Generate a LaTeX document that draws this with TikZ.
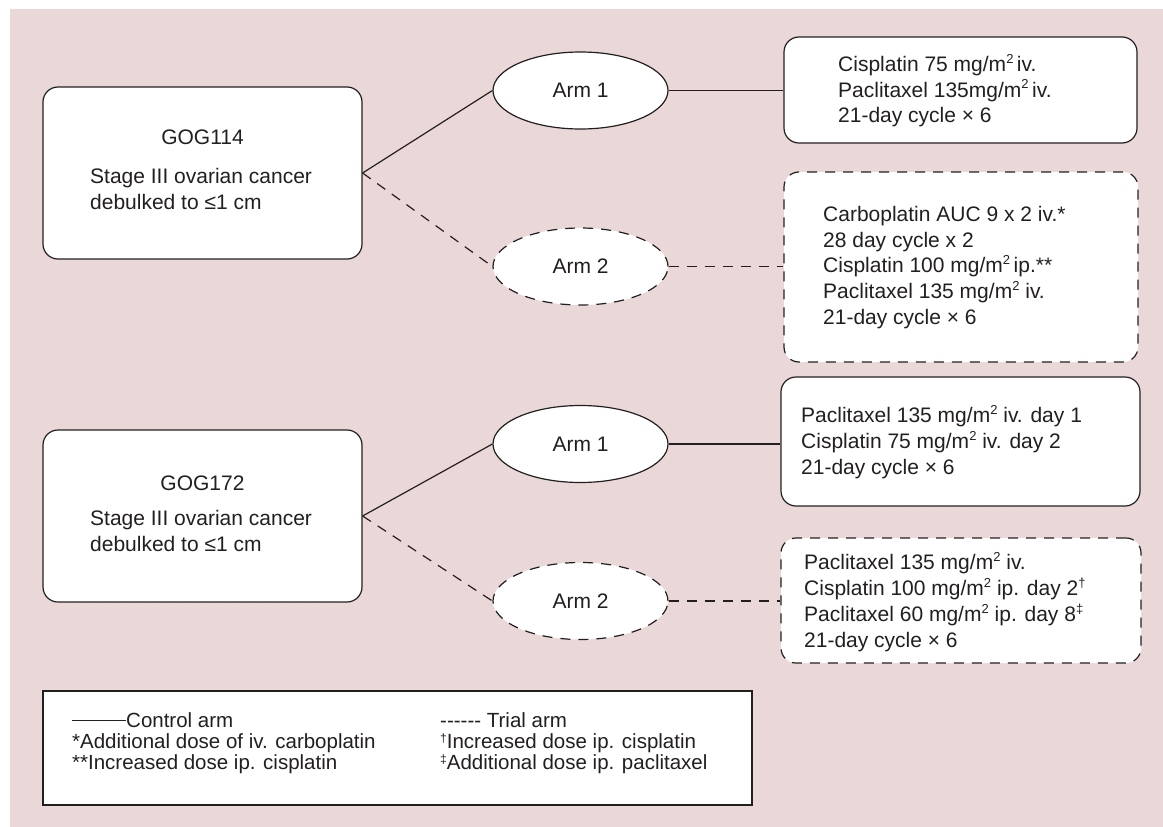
\documentclass[tikz,border=0pt]{standalone}
\usepackage{fontspec}
\newfontfamily\lsans{Liberation Sans}
\usetikzlibrary{shapes.geometric,calc}
\definecolor{bgpink}{RGB}{234,216,216}
\definecolor{ink}{RGB}{35,31,32}
\newcommand\mysup[1]{\raisebox{0.75ex}{\fontsize{13}{13}\selectfont #1}}
\newcommand\legsup[1]{\raisebox{0.5ex}{\fontsize{12}{12}\selectfont #1}}
\begin{document}
\begin{tikzpicture}[x=1pt,y=-1pt,
 every node/.style={font=\lsans\fontsize{21}{25.7}\selectfont, text=ink},
 edge/.style={draw=ink, line width=1.2pt},
 trial/.style={dash pattern=on 10pt off 8pt},
 studybox/.style={draw=ink, line width=1.2pt, fill=white, rounded corners=15pt, minimum width=319pt, minimum height=172pt, inner sep=0pt},
 armnode/.style={ellipse, draw=ink, line width=1.2pt, fill=white, minimum width=175pt, minimum height=77pt, inner sep=0pt},
 regbox/.style={draw=ink, line width=1.2pt, fill=white, rounded corners=15pt, inner sep=0pt},
 regtext/.style={anchor=west, align=left, inner sep=0pt},
 legtext/.style={anchor=west, inner sep=0pt, text height=13pt, text depth=3pt, font=\lsans\fontsize{20.5}{21}\selectfont},
]
\useasboundingbox (0,0) rectangle (1163,827);
\fill[bgpink] (10,9) rectangle (1163,827);

% ---------- GOG114 ----------
\node[studybox] (s1) at (202.5,173) {};
\node (s1t) at (202.5,137) {GOG114};
\node[regtext, anchor=north west] (s1d) at (90,168) {Stage III ovarian cancer\\debulked to ≤1 cm};

\node[armnode] (a11) at (580.5,90.5) {Arm 1};
\node[armnode, trial] (a12) at (580.5,266.5) {Arm 2};

\node[regbox, minimum width=353pt, minimum height=106pt] (r11) at (960.5,90) {};
\node[regtext] (r11t) at (838,90.5) {Cisplatin 75 mg/m\mysup{2}\,iv.\\Paclitaxel 135mg/m\mysup{2}\,iv.\\21-day cycle × 6};

\node[regbox, trial, minimum width=354pt, minimum height=190pt] (r12) at (961,267) {};
\node[regtext] (r12t) at (823,267.5) {Carboplatin AUC 9 x 2 iv.*\\28 day cycle x 2\\Cisplatin 100 mg/m\mysup{2}\,ip.**\\Paclitaxel 135 mg/m\mysup{2} iv.\\21-day cycle × 6};

\draw[edge] (s1.east) -- (a11.west);
\draw[edge, trial] (s1.east) -- (a12.west);
\draw[edge] (a11.east) -- (a11.east -| r11.west);
\draw[edge, trial] (a12.east) -- (a12.east -| r12.west);

% ---------- GOG172 ----------
\node[studybox] (s2) at (202.5,516) {};
\node (s2t) at (202.5,483) {GOG172};
\node[regtext, anchor=north west] (s2d) at (90,510) {Stage III ovarian cancer\\debulked to ≤1 cm};

\node[armnode] (a21) at (580.5,444) {Arm 1};
\node[armnode, trial] (a22) at (580.5,601) {Arm 2};

\node[regbox, minimum width=359pt, minimum height=129pt] (r21) at (960.5,441.5) {};
\node[regtext] (r21t) at (801,442) {Paclitaxel 135 mg/m\mysup{2} iv. day 1\\Cisplatin 75 mg/m\mysup{2} iv. day 2\\21-day cycle × 6};

\node[regbox, trial, minimum width=360pt, minimum height=125pt] (r22) at (961,600.5) {};
\node[regtext] (r22t) at (804,602) {Paclitaxel 135 mg/m\mysup{2} iv.\\Cisplatin 100 mg/m\mysup{2} ip. day 2\mysup{†}\\Paclitaxel 60 mg/m\mysup{2} ip. day 8\mysup{‡}\\21-day cycle × 6};

\draw[edge] (s2.east) -- (a21.west);
\draw[edge, trial] (s2.east) -- (a22.west);
\draw[edge] (a21.east) -- (a21.east -| r21.west);
\draw[edge, trial] (a22.east) -- (a22.east -| r22.west);

% ---------- legend ----------
\node[draw=ink, line width=1.2pt, fill=white, minimum width=709pt, minimum height=114pt, inner sep=0pt] (leg) at (397.5,748) {};
\node[legtext] (l1) at (72,722) {\rule[6.5pt]{54pt}{1pt}Control arm};
\node[legtext] (l2) at (72,743) {*Additional dose of iv. carboplatin};
\node[legtext] (l3) at (72,764) {**Increased dose ip. cisplatin};
\node[legtext] (l4) at (440,722) {------ Trial arm};
\node[legtext] (l5) at (440,743) {\legsup{†}Increased dose ip. cisplatin};
\node[legtext] (l6) at (440,764) {\legsup{‡}Additional dose ip. paclitaxel};
\end{tikzpicture}
\end{document}
